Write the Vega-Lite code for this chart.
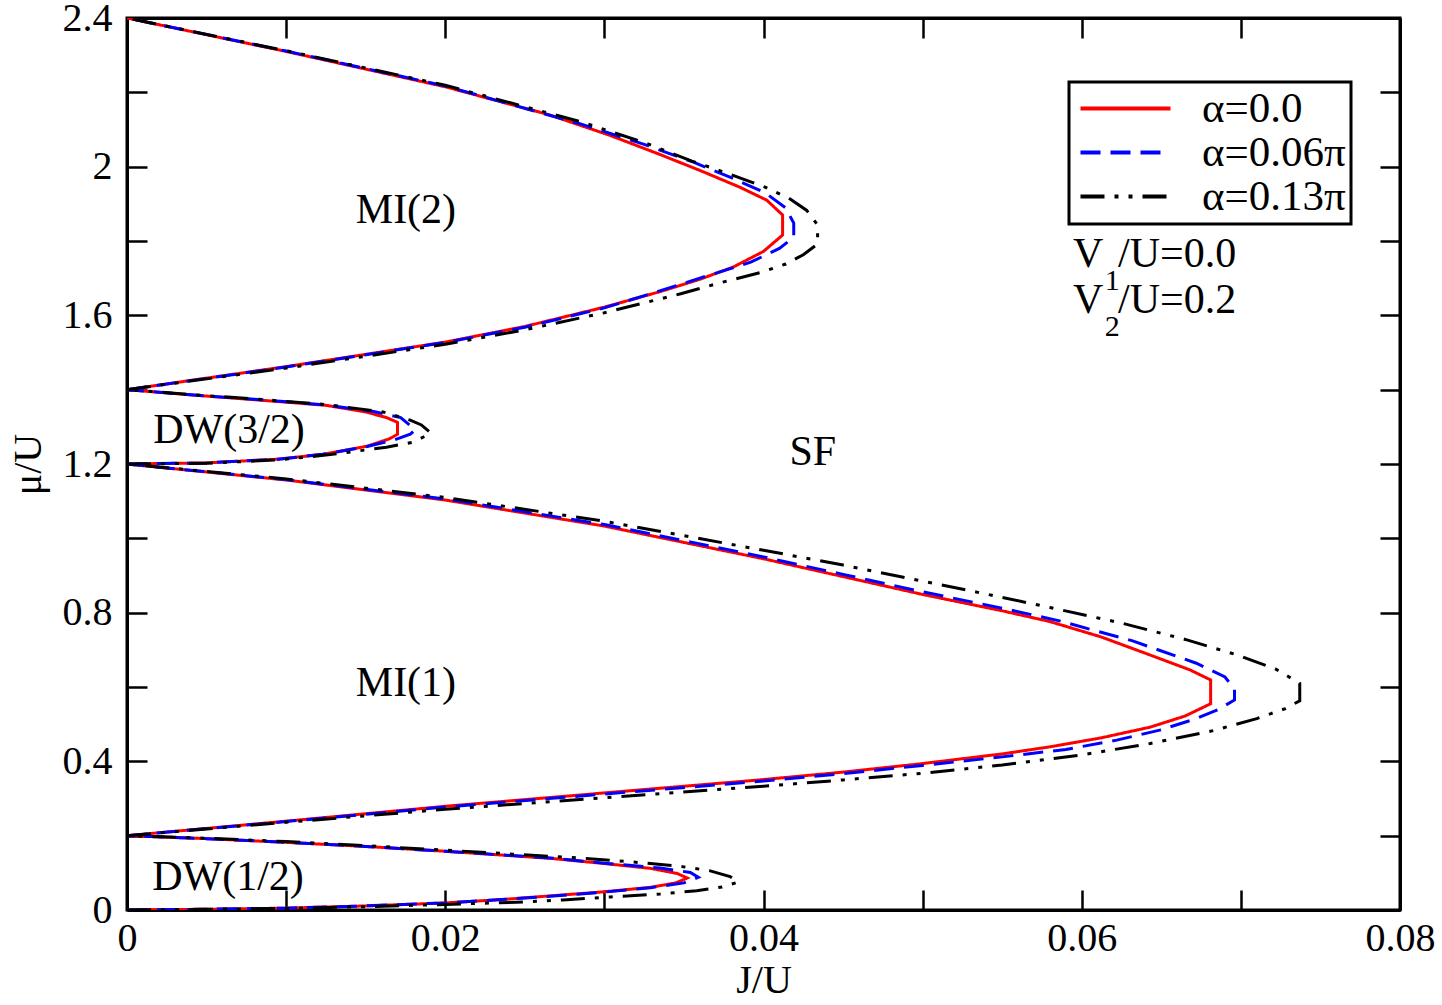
{
  "$schema": "https://vega.github.io/schema/vega-lite/v6.json",
  "width": 1273,
  "height": 892,
  "autosize": {"type": "none"},
  "padding": {"left": 127, "top": 18, "right": 42, "bottom": 95},
  "background": "white",
  "config": {
    "font": "Liberation Serif",
    "view": {"stroke": "black", "strokeWidth": 3},
    "axis": {
      "domainColor": "black", "domainWidth": 3, "tickColor": "black", "tickWidth": 2.5,
      "tickSize": -20, "labelFont": "Liberation Serif", "labelFontSize": 40, "labelColor": "black",
      "titleFont": "Liberation Serif", "titleFontSize": 40, "titleFontWeight": "normal", "titleColor": "black",
      "grid": false
    },
    "legend": {
      "orient": "none", "legendX": 942, "legendY": 64, "strokeColor": "black", "strokeWidth": 3,
      "padding": 5, "symbolType": "M-1,0H5", "symbolSize": 900, "symbolStrokeWidth": 4,
      "labelFont": "Liberation Serif", "labelFontSize": 43, "labelColor": "black", "labelOffset": 85,
      "rowPadding": -2, "title": null, "labelLimit": 400
    }
  },
  "resolve": {"axis": {"x": "independent", "y": "independent"}},
  "layer": [
    {
      "data": {"name": "curves", "values": [
        {"s":"α=0.0","l":1,"i":0,"J":0,"mu":0},{"s":"α=0.0","l":1,"i":1,"J":0.005,"mu":0.002},{"s":"α=0.0","l":1,"i":2,"J":0.01,"mu":0.005},{"s":"α=0.0","l":1,"i":3,"J":0.015,"mu":0.011},{"s":"α=0.0","l":1,"i":4,"J":0.02,"mu":0.019},{"s":"α=0.0","l":1,"i":5,"J":0.0235,"mu":0.028},{"s":"α=0.0","l":1,"i":6,"J":0.0266,"mu":0.038},{"s":"α=0.0","l":1,"i":7,"J":0.0297,"mu":0.048},{"s":"α=0.0","l":1,"i":8,"J":0.0329,"mu":0.061},{"s":"α=0.0","l":1,"i":9,"J":0.0345,"mu":0.073},{"s":"α=0.0","l":1,"i":10,"J":0.0352,"mu":0.086},{"s":"α=0.0","l":1,"i":11,"J":0.0346,"mu":0.098},{"s":"α=0.0","l":1,"i":12,"J":0.0329,"mu":0.112},{"s":"α=0.0","l":1,"i":13,"J":0.03,"mu":0.125},{"s":"α=0.0","l":1,"i":14,"J":0.0266,"mu":0.139},{"s":"α=0.0","l":1,"i":15,"J":0.02,"mu":0.158},{"s":"α=0.0","l":1,"i":16,"J":0.015,"mu":0.171},{"s":"α=0.0","l":1,"i":17,"J":0.01,"mu":0.182},{"s":"α=0.0","l":1,"i":18,"J":0.005,"mu":0.192},{"s":"α=0.0","l":1,"i":19,"J":0,"mu":0.2},
        {"s":"α=0.0","l":2,"i":0,"J":0,"mu":0.2},{"s":"α=0.0","l":2,"i":1,"J":0.01,"mu":0.239},{"s":"α=0.0","l":2,"i":2,"J":0.02,"mu":0.279},{"s":"α=0.0","l":2,"i":3,"J":0.03,"mu":0.315},{"s":"α=0.0","l":2,"i":4,"J":0.04,"mu":0.351},{"s":"α=0.0","l":2,"i":5,"J":0.045,"mu":0.371},{"s":"α=0.0","l":2,"i":6,"J":0.05,"mu":0.394},{"s":"α=0.0","l":2,"i":7,"J":0.055,"mu":0.42},{"s":"α=0.0","l":2,"i":8,"J":0.058,"mu":0.439},{"s":"α=0.0","l":2,"i":9,"J":0.0612,"mu":0.463},{"s":"α=0.0","l":2,"i":10,"J":0.0643,"mu":0.492},{"s":"α=0.0","l":2,"i":11,"J":0.0665,"mu":0.522},{"s":"α=0.0","l":2,"i":12,"J":0.0681,"mu":0.555},{"s":"α=0.0","l":2,"i":13,"J":0.0681,"mu":0.619},{"s":"α=0.0","l":2,"i":14,"J":0.0668,"mu":0.646},{"s":"α=0.0","l":2,"i":15,"J":0.0643,"mu":0.686},{"s":"α=0.0","l":2,"i":16,"J":0.0612,"mu":0.735},{"s":"α=0.0","l":2,"i":17,"J":0.058,"mu":0.776},{"s":"α=0.0","l":2,"i":18,"J":0.055,"mu":0.805},{"s":"α=0.0","l":2,"i":19,"J":0.05,"mu":0.849},{"s":"α=0.0","l":2,"i":20,"J":0.045,"mu":0.897},{"s":"α=0.0","l":2,"i":21,"J":0.04,"mu":0.945},{"s":"α=0.0","l":2,"i":22,"J":0.03,"mu":1.033},{"s":"α=0.0","l":2,"i":23,"J":0.02,"mu":1.103},{"s":"α=0.0","l":2,"i":24,"J":0.01,"mu":1.157},{"s":"α=0.0","l":2,"i":25,"J":0,"mu":1.2},
        {"s":"α=0.0","l":3,"i":0,"J":0,"mu":1.2},{"s":"α=0.0","l":3,"i":1,"J":0.005,"mu":1.203},{"s":"α=0.0","l":3,"i":2,"J":0.0095,"mu":1.213},{"s":"α=0.0","l":3,"i":3,"J":0.0123,"mu":1.226},{"s":"α=0.0","l":3,"i":4,"J":0.0151,"mu":1.248},{"s":"α=0.0","l":3,"i":5,"J":0.0165,"mu":1.268},{"s":"α=0.0","l":3,"i":6,"J":0.017,"mu":1.28},{"s":"α=0.0","l":3,"i":7,"J":0.017,"mu":1.312},{"s":"α=0.0","l":3,"i":8,"J":0.0163,"mu":1.325},{"s":"α=0.0","l":3,"i":9,"J":0.015,"mu":1.34},{"s":"α=0.0","l":3,"i":10,"J":0.0125,"mu":1.358},{"s":"α=0.0","l":3,"i":11,"J":0.008,"mu":1.373},{"s":"α=0.0","l":3,"i":12,"J":0.004,"mu":1.386},{"s":"α=0.0","l":3,"i":13,"J":0,"mu":1.4},
        {"s":"α=0.0","l":4,"i":0,"J":0,"mu":1.4},{"s":"α=0.0","l":4,"i":1,"J":0.01,"mu":1.462},{"s":"α=0.0","l":4,"i":2,"J":0.02,"mu":1.528},{"s":"α=0.0","l":4,"i":3,"J":0.025,"mu":1.57},{"s":"α=0.0","l":4,"i":4,"J":0.03,"mu":1.622},{"s":"α=0.0","l":4,"i":5,"J":0.0336,"mu":1.665},{"s":"α=0.0","l":4,"i":6,"J":0.036,"mu":1.697},{"s":"α=0.0","l":4,"i":7,"J":0.0381,"mu":1.73},{"s":"α=0.0","l":4,"i":8,"J":0.04,"mu":1.772},{"s":"α=0.0","l":4,"i":9,"J":0.0412,"mu":1.816},{"s":"α=0.0","l":4,"i":10,"J":0.0412,"mu":1.87},{"s":"α=0.0","l":4,"i":11,"J":0.0402,"mu":1.91},{"s":"α=0.0","l":4,"i":12,"J":0.0385,"mu":1.945},{"s":"α=0.0","l":4,"i":13,"J":0.036,"mu":1.99},{"s":"α=0.0","l":4,"i":14,"J":0.0333,"mu":2.036},{"s":"α=0.0","l":4,"i":15,"J":0.0303,"mu":2.085},{"s":"α=0.0","l":4,"i":16,"J":0.0265,"mu":2.14},{"s":"α=0.0","l":4,"i":17,"J":0.02,"mu":2.215},{"s":"α=0.0","l":4,"i":18,"J":0.01,"mu":2.31},{"s":"α=0.0","l":4,"i":19,"J":0,"mu":2.4},

        {"s":"α=0.06π","l":1,"i":0,"J":0,"mu":0},{"s":"α=0.06π","l":1,"i":1,"J":0.005,"mu":0.002},{"s":"α=0.06π","l":1,"i":2,"J":0.01,"mu":0.005},{"s":"α=0.06π","l":1,"i":3,"J":0.015,"mu":0.011},{"s":"α=0.06π","l":1,"i":4,"J":0.02,"mu":0.019},{"s":"α=0.06π","l":1,"i":5,"J":0.0235,"mu":0.028},{"s":"α=0.06π","l":1,"i":6,"J":0.0266,"mu":0.037},{"s":"α=0.06π","l":1,"i":7,"J":0.0297,"mu":0.047},{"s":"α=0.06π","l":1,"i":8,"J":0.0329,"mu":0.06},{"s":"α=0.06π","l":1,"i":9,"J":0.035,"mu":0.073},{"s":"α=0.06π","l":1,"i":10,"J":0.0359,"mu":0.088},{"s":"α=0.06π","l":1,"i":11,"J":0.0354,"mu":0.101},{"s":"α=0.06π","l":1,"i":12,"J":0.0335,"mu":0.113},{"s":"α=0.06π","l":1,"i":13,"J":0.03,"mu":0.126},{"s":"α=0.06π","l":1,"i":14,"J":0.0266,"mu":0.14},{"s":"α=0.06π","l":1,"i":15,"J":0.02,"mu":0.158},{"s":"α=0.06π","l":1,"i":16,"J":0.015,"mu":0.171},{"s":"α=0.06π","l":1,"i":17,"J":0.01,"mu":0.182},{"s":"α=0.06π","l":1,"i":18,"J":0.005,"mu":0.192},{"s":"α=0.06π","l":1,"i":19,"J":0,"mu":0.2},
        {"s":"α=0.06π","l":2,"i":0,"J":0,"mu":0.2},{"s":"α=0.06π","l":2,"i":1,"J":0.01,"mu":0.238},{"s":"α=0.06π","l":2,"i":2,"J":0.02,"mu":0.277},{"s":"α=0.06π","l":2,"i":3,"J":0.03,"mu":0.312},{"s":"α=0.06π","l":2,"i":4,"J":0.04,"mu":0.347},{"s":"α=0.06π","l":2,"i":5,"J":0.045,"mu":0.367},{"s":"α=0.06π","l":2,"i":6,"J":0.05,"mu":0.389},{"s":"α=0.06π","l":2,"i":7,"J":0.055,"mu":0.412},{"s":"α=0.06π","l":2,"i":8,"J":0.059,"mu":0.432},{"s":"α=0.06π","l":2,"i":9,"J":0.0622,"mu":0.457},{"s":"α=0.06π","l":2,"i":10,"J":0.0649,"mu":0.484},{"s":"α=0.06π","l":2,"i":11,"J":0.0672,"mu":0.515},{"s":"α=0.06π","l":2,"i":12,"J":0.0686,"mu":0.54},{"s":"α=0.06π","l":2,"i":13,"J":0.0696,"mu":0.565},{"s":"α=0.06π","l":2,"i":14,"J":0.0696,"mu":0.595},{"s":"α=0.06π","l":2,"i":15,"J":0.069,"mu":0.627},{"s":"α=0.06π","l":2,"i":16,"J":0.0672,"mu":0.664},{"s":"α=0.06π","l":2,"i":17,"J":0.0632,"mu":0.724},{"s":"α=0.06π","l":2,"i":18,"J":0.0586,"mu":0.778},{"s":"α=0.06π","l":2,"i":19,"J":0.055,"mu":0.812},{"s":"α=0.06π","l":2,"i":20,"J":0.05,"mu":0.856},{"s":"α=0.06π","l":2,"i":21,"J":0.045,"mu":0.903},{"s":"α=0.06π","l":2,"i":22,"J":0.04,"mu":0.95},{"s":"α=0.06π","l":2,"i":23,"J":0.03,"mu":1.037},{"s":"α=0.06π","l":2,"i":24,"J":0.02,"mu":1.106},{"s":"α=0.06π","l":2,"i":25,"J":0.01,"mu":1.158},{"s":"α=0.06π","l":2,"i":26,"J":0,"mu":1.2},
        {"s":"α=0.06π","l":3,"i":0,"J":0,"mu":1.2},{"s":"α=0.06π","l":3,"i":1,"J":0.005,"mu":1.203},{"s":"α=0.06π","l":3,"i":2,"J":0.0095,"mu":1.213},{"s":"α=0.06π","l":3,"i":3,"J":0.0123,"mu":1.226},{"s":"α=0.06π","l":3,"i":4,"J":0.0151,"mu":1.247},{"s":"α=0.06π","l":3,"i":5,"J":0.0168,"mu":1.265},{"s":"α=0.06π","l":3,"i":6,"J":0.0178,"mu":1.28},{"s":"α=0.06π","l":3,"i":7,"J":0.0181,"mu":1.292},{"s":"α=0.06π","l":3,"i":8,"J":0.0172,"mu":1.325},{"s":"α=0.06π","l":3,"i":9,"J":0.0155,"mu":1.341},{"s":"α=0.06π","l":3,"i":10,"J":0.0125,"mu":1.359},{"s":"α=0.06π","l":3,"i":11,"J":0.008,"mu":1.374},{"s":"α=0.06π","l":3,"i":12,"J":0.004,"mu":1.386},{"s":"α=0.06π","l":3,"i":13,"J":0,"mu":1.4},
        {"s":"α=0.06π","l":4,"i":0,"J":0,"mu":1.4},{"s":"α=0.06π","l":4,"i":1,"J":0.01,"mu":1.461},{"s":"α=0.06π","l":4,"i":2,"J":0.02,"mu":1.527},{"s":"α=0.06π","l":4,"i":3,"J":0.025,"mu":1.568},{"s":"α=0.06π","l":4,"i":4,"J":0.03,"mu":1.62},{"s":"α=0.06π","l":4,"i":5,"J":0.0329,"mu":1.658},{"s":"α=0.06π","l":4,"i":6,"J":0.036,"mu":1.7},{"s":"α=0.06π","l":4,"i":7,"J":0.0392,"mu":1.743},{"s":"α=0.06π","l":4,"i":8,"J":0.041,"mu":1.78},{"s":"α=0.06π","l":4,"i":9,"J":0.0419,"mu":1.81},{"s":"α=0.06π","l":4,"i":10,"J":0.0419,"mu":1.848},{"s":"α=0.06π","l":4,"i":11,"J":0.0414,"mu":1.889},{"s":"α=0.06π","l":4,"i":12,"J":0.0401,"mu":1.93},{"s":"α=0.06π","l":4,"i":13,"J":0.0381,"mu":1.968},{"s":"α=0.06π","l":4,"i":14,"J":0.0356,"mu":2.012},{"s":"α=0.06π","l":4,"i":15,"J":0.0325,"mu":2.06},{"s":"α=0.06π","l":4,"i":16,"J":0.0285,"mu":2.115},{"s":"α=0.06π","l":4,"i":17,"J":0.02,"mu":2.217},{"s":"α=0.06π","l":4,"i":18,"J":0.01,"mu":2.311},{"s":"α=0.06π","l":4,"i":19,"J":0,"mu":2.4},

        {"s":"α=0.13π","l":1,"i":0,"J":0,"mu":0},{"s":"α=0.13π","l":1,"i":1,"J":0.005,"mu":0.002},{"s":"α=0.13π","l":1,"i":2,"J":0.01,"mu":0.004},{"s":"α=0.13π","l":1,"i":3,"J":0.015,"mu":0.009},{"s":"α=0.13π","l":1,"i":4,"J":0.02,"mu":0.015},{"s":"α=0.13π","l":1,"i":5,"J":0.0245,"mu":0.021},{"s":"α=0.13π","l":1,"i":6,"J":0.0274,"mu":0.027},{"s":"α=0.13π","l":1,"i":7,"J":0.0304,"mu":0.035},{"s":"α=0.13π","l":1,"i":8,"J":0.0335,"mu":0.043},{"s":"α=0.13π","l":1,"i":9,"J":0.0358,"mu":0.052},{"s":"α=0.13π","l":1,"i":10,"J":0.0374,"mu":0.062},{"s":"α=0.13π","l":1,"i":11,"J":0.0384,"mu":0.075},{"s":"α=0.13π","l":1,"i":12,"J":0.0379,"mu":0.09},{"s":"α=0.13π","l":1,"i":13,"J":0.0366,"mu":0.106},{"s":"α=0.13π","l":1,"i":14,"J":0.0345,"mu":0.119},{"s":"α=0.13π","l":1,"i":15,"J":0.0318,"mu":0.129},{"s":"α=0.13π","l":1,"i":16,"J":0.028,"mu":0.141},{"s":"α=0.13π","l":1,"i":17,"J":0.02,"mu":0.161},{"s":"α=0.13π","l":1,"i":18,"J":0.015,"mu":0.173},{"s":"α=0.13π","l":1,"i":19,"J":0.01,"mu":0.184},{"s":"α=0.13π","l":1,"i":20,"J":0.005,"mu":0.193},{"s":"α=0.13π","l":1,"i":21,"J":0,"mu":0.2},
        {"s":"α=0.13π","l":2,"i":0,"J":0,"mu":0.2},{"s":"α=0.13π","l":2,"i":1,"J":0.01,"mu":0.236},{"s":"α=0.13π","l":2,"i":2,"J":0.02,"mu":0.271},{"s":"α=0.13π","l":2,"i":3,"J":0.03,"mu":0.302},{"s":"α=0.13π","l":2,"i":4,"J":0.04,"mu":0.333},{"s":"α=0.13π","l":2,"i":5,"J":0.045,"mu":0.35},{"s":"α=0.13π","l":2,"i":6,"J":0.05,"mu":0.368},{"s":"α=0.13π","l":2,"i":7,"J":0.055,"mu":0.39},{"s":"α=0.13π","l":2,"i":8,"J":0.0601,"mu":0.418},{"s":"α=0.13π","l":2,"i":9,"J":0.0643,"mu":0.448},{"s":"α=0.13π","l":2,"i":10,"J":0.0683,"mu":0.483},{"s":"α=0.13π","l":2,"i":11,"J":0.071,"mu":0.515},{"s":"α=0.13π","l":2,"i":12,"J":0.0728,"mu":0.542},{"s":"α=0.13π","l":2,"i":13,"J":0.0737,"mu":0.563},{"s":"α=0.13π","l":2,"i":14,"J":0.0737,"mu":0.61},{"s":"α=0.13π","l":2,"i":15,"J":0.0722,"mu":0.648},{"s":"α=0.13π","l":2,"i":16,"J":0.0698,"mu":0.686},{"s":"α=0.13π","l":2,"i":17,"J":0.0665,"mu":0.728},{"s":"α=0.13π","l":2,"i":18,"J":0.0625,"mu":0.772},{"s":"α=0.13π","l":2,"i":19,"J":0.058,"mu":0.814},{"s":"α=0.13π","l":2,"i":20,"J":0.054,"mu":0.85},{"s":"α=0.13π","l":2,"i":21,"J":0.05,"mu":0.885},{"s":"α=0.13π","l":2,"i":22,"J":0.045,"mu":0.928},{"s":"α=0.13π","l":2,"i":23,"J":0.04,"mu":0.968},{"s":"α=0.13π","l":2,"i":24,"J":0.03,"mu":1.046},{"s":"α=0.13π","l":2,"i":25,"J":0.02,"mu":1.11},{"s":"α=0.13π","l":2,"i":26,"J":0.01,"mu":1.16},{"s":"α=0.13π","l":2,"i":27,"J":0,"mu":1.2},
        {"s":"α=0.13π","l":3,"i":0,"J":0,"mu":1.2},{"s":"α=0.13π","l":3,"i":1,"J":0.005,"mu":1.202},{"s":"α=0.13π","l":3,"i":2,"J":0.0095,"mu":1.211},{"s":"α=0.13π","l":3,"i":3,"J":0.0125,"mu":1.224},{"s":"α=0.13π","l":3,"i":4,"J":0.0163,"mu":1.245},{"s":"α=0.13π","l":3,"i":5,"J":0.018,"mu":1.259},{"s":"α=0.13π","l":3,"i":6,"J":0.0191,"mu":1.283},{"s":"α=0.13π","l":3,"i":7,"J":0.0185,"mu":1.305},{"s":"α=0.13π","l":3,"i":8,"J":0.0178,"mu":1.318},{"s":"α=0.13π","l":3,"i":9,"J":0.0161,"mu":1.34},{"s":"α=0.13π","l":3,"i":10,"J":0.0125,"mu":1.36},{"s":"α=0.13π","l":3,"i":11,"J":0.008,"mu":1.375},{"s":"α=0.13π","l":3,"i":12,"J":0.004,"mu":1.387},{"s":"α=0.13π","l":3,"i":13,"J":0,"mu":1.4},
        {"s":"α=0.13π","l":4,"i":0,"J":0,"mu":1.4},{"s":"α=0.13π","l":4,"i":1,"J":0.01,"mu":1.458},{"s":"α=0.13π","l":4,"i":2,"J":0.02,"mu":1.522},{"s":"α=0.13π","l":4,"i":3,"J":0.025,"mu":1.561},{"s":"α=0.13π","l":4,"i":4,"J":0.03,"mu":1.607},{"s":"α=0.13π","l":4,"i":5,"J":0.0348,"mu":1.658},{"s":"α=0.13π","l":4,"i":6,"J":0.0375,"mu":1.69},{"s":"α=0.13π","l":4,"i":7,"J":0.0398,"mu":1.715},{"s":"α=0.13π","l":4,"i":8,"J":0.0414,"mu":1.738},{"s":"α=0.13π","l":4,"i":9,"J":0.0425,"mu":1.763},{"s":"α=0.13π","l":4,"i":10,"J":0.0434,"mu":1.792},{"s":"α=0.13π","l":4,"i":11,"J":0.0434,"mu":1.843},{"s":"α=0.13π","l":4,"i":12,"J":0.0427,"mu":1.883},{"s":"α=0.13π","l":4,"i":13,"J":0.0416,"mu":1.915},{"s":"α=0.13π","l":4,"i":14,"J":0.0401,"mu":1.945},{"s":"α=0.13π","l":4,"i":15,"J":0.038,"mu":1.978},{"s":"α=0.13π","l":4,"i":16,"J":0.0355,"mu":2.015},{"s":"α=0.13π","l":4,"i":17,"J":0.0325,"mu":2.065},{"s":"α=0.13π","l":4,"i":18,"J":0.0285,"mu":2.121},{"s":"α=0.13π","l":4,"i":19,"J":0.02,"mu":2.219},{"s":"α=0.13π","l":4,"i":20,"J":0.01,"mu":2.312},{"s":"α=0.13π","l":4,"i":21,"J":0,"mu":2.4}
      ]},
      "mark": {"type": "line", "strokeWidth": 3, "clip": true},
      "encoding": {
        "x": {"field": "J", "type": "quantitative", "scale": {"domain": [0, 0.08], "nice": false, "zero": false},
          "axis": {"title": "J/U", "values": [0,0.01,0.02,0.03,0.04,0.05,0.06,0.07,0.08], "format": "~g",
            "labelExpr": "indexof(['0','0.02','0.04','0.06','0.08'], datum.label) >= 0 ? datum.label : ''",
            "labelPadding": 28, "titlePadding": 2, "labelFlush": false}},
        "y": {"field": "mu", "type": "quantitative", "scale": {"domain": [0, 2.4], "nice": false, "zero": false},
          "axis": {"title": "μ/U", "values": [0,0.2,0.4,0.6,0.8,1,1.2,1.4,1.6,1.8,2,2.2,2.4], "format": "~g",
            "labelExpr": "indexof(['0','0.4','0.8','1.2','1.6','2','2.4'], datum.label) >= 0 ? datum.label : ''",
            "labelPadding": 35, "titlePadding": 14, "labelFlush": false}},
        "color": {"field": "s", "type": "nominal", "sort": ["α=0.0","α=0.06π","α=0.13π"],
          "scale": {"domain": ["α=0.0","α=0.06π","α=0.13π"], "range": ["#ff0000","#0000ff","#000000"]}},
        "strokeDash": {"field": "s", "type": "nominal", "sort": ["α=0.0","α=0.06π","α=0.13π"],
          "scale": {"domain": ["α=0.0","α=0.06π","α=0.13π"], "range": [[1,0],[20,10],[24,10,4,10,4,10]]}},
        "detail": {"field": "l", "type": "nominal"},
        "order": {"field": "i", "type": "quantitative"}
      }
    },
    {
      "data": {"values": [{"J": 0, "mu": 0}]},
      "mark": {"type": "point", "opacity": 0},
      "encoding": {
        "x": {"field": "J", "type": "quantitative",
          "axis": {"orient": "top", "title": null, "labels": false, "values": [0,0.01,0.02,0.03,0.04,0.05,0.06,0.07,0.08]}},
        "y": {"field": "mu", "type": "quantitative",
          "axis": {"orient": "right", "title": null, "labels": false, "values": [0,0.2,0.4,0.6,0.8,1,1.2,1.4,1.6,1.8,2,2.2,2.4]}}
      }
    },
    {
      "data": {"values": [
        {"t": "MI(2)", "J": 0.01753, "mu": 1.848},
        {"t": "DW(3/2)", "J": 0.00641, "mu": 1.256},
        {"t": "SF", "J": 0.0431, "mu": 1.196},
        {"t": "MI(1)", "J": 0.01753, "mu": 0.575},
        {"t": "DW(1/2)", "J": 0.00635, "mu": 0.055}
      ]},
      "mark": {"type": "text", "font": "Liberation Serif", "fontSize": 42, "align": "center", "baseline": "alphabetic", "color": "black"},
      "encoding": {
        "x": {"field": "J", "type": "quantitative", "axis": null},
        "y": {"field": "mu", "type": "quantitative", "axis": null},
        "text": {"field": "t"}
      }
    },
    {
      "data": {"values": [
        {"t": "V", "J": 0.05945, "mu": 1.73},
        {"t": "/U=0.0", "J": 0.06228, "mu": 1.73},
        {"t": "V", "J": 0.05945, "mu": 1.606},
        {"t": "/U=0.2", "J": 0.06228, "mu": 1.606}
      ]},
      "mark": {"type": "text", "font": "Liberation Serif", "fontSize": 42, "align": "left", "baseline": "alphabetic", "color": "black"},
      "encoding": {
        "x": {"field": "J", "type": "quantitative", "axis": null},
        "y": {"field": "mu", "type": "quantitative", "axis": null},
        "text": {"field": "t"}
      }
    },
    {
      "data": {"values": [
        {"t": "1", "J": 0.06145, "mu": 1.668},
        {"t": "2", "J": 0.06145, "mu": 1.544}
      ]},
      "mark": {"type": "text", "font": "Liberation Serif", "fontSize": 30, "align": "left", "baseline": "alphabetic", "color": "black"},
      "encoding": {
        "x": {"field": "J", "type": "quantitative", "axis": null},
        "y": {"field": "mu", "type": "quantitative", "axis": null},
        "text": {"field": "t"}
      }
    }
  ]
}
